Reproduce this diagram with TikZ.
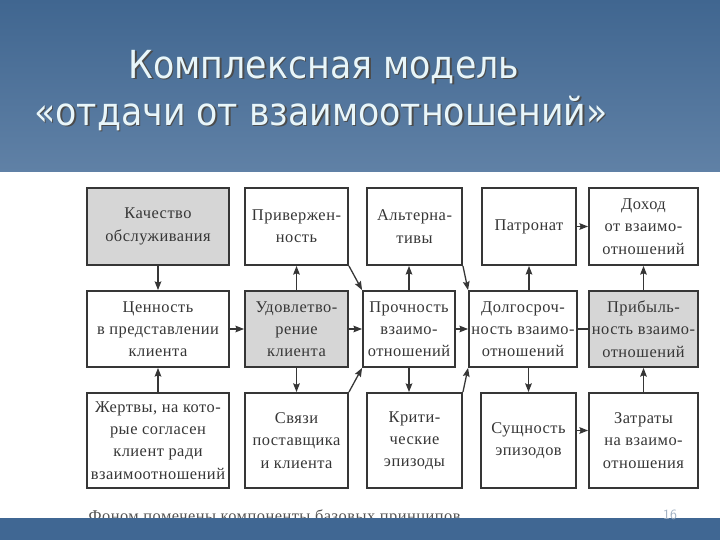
\documentclass[tikz,border=0pt]{standalone}
\usepackage{fontspec}
\setmainfont{Liberation Serif}
\newfontfamily\titlefont{DejaVu Sans Condensed}
\newfontfamily\bookfont[LetterSpace=3]{Liberation Serif}
\usetikzlibrary{arrows.meta, positioning, calc}
\definecolor{cband}{RGB}{64,103,147}
\definecolor{cbandtop}{RGB}{64,102,144}
\definecolor{cbandlow}{RGB}{96,129,166}
\definecolor{ctitle}{HTML}{E8F6FA}
\definecolor{cink}{HTML}{363636}
\definecolor{cshade}{HTML}{D6D6D6}
\definecolor{cpage}{RGB}{160,176,194}
\tikzset{
  every picture/.style={line width=1.2pt},
  box/.style={draw=cink, fill=#1, line width=1.6pt, align=center, inner sep=2pt,
    font=\bookfont\fontsize{14}{19}\selectfont, text=cink},
  box/.default=white,
  arrow/.style={-{Stealth[length=2.6mm, width=2mm, inset=0.4mm]}, draw=cink, line width=1.1pt},
  link/.style={draw=cink, line width=1.1pt},
  title/.style={font=\titlefont\fontsize{33}{38}\selectfont, text=ctitle},
  note/.style={font=\bookfont\fontsize{14}{16}\selectfont, text=cink!85},
}

\begin{document}
\begin{tikzpicture}[x=0.03cm, y=-0.03cm]
  \useasboundingbox (0,0) rectangle (720,540);
  \fill[white] (0,0) rectangle (720,540);
  \shade[top color=cbandtop, bottom color=cbandlow] (0,0) rectangle (720,172);
  % title with its shadow
  \node[title, text=black!70] (t1s) at (325.5,68.5) {Комплексная модель};
  \node[title] (t1) at (324,67) {Комплексная модель};
  \node[title, text=black!70] (t2s) at (322.5,114.5) {«отдачи от взаимоотношений»};
  \node[title] (t2) at (321,113) {«отдачи от взаимоотношений»};
  % row 1
  \node[box=cshade, minimum width=4.26cm, minimum height=2.31cm] (kach) at (158,226.5) {Качество\\обслуживания};
  \node[box, minimum width=3.09cm, minimum height=2.31cm] (priv) at (296.5,226.5) {Привержен-\\ность};
  \node[box, minimum width=2.85cm, minimum height=2.31cm] (alt) at (414.5,226.5) {Альтерна-\\тивы};
  \node[box, minimum width=2.82cm, minimum height=2.31cm] (patr) at (529,226.5) {Патронат};
  \node[box, minimum width=3.27cm, minimum height=2.31cm] (dohod) at (643.5,226.5) {Доход\\от взаимо-\\отношений};
  % row 2
  \node[box, minimum width=4.26cm, minimum height=2.28cm] (cen) at (158,329) {Ценность\\в представлении\\клиента};
  \node[box=cshade, minimum width=3.09cm, minimum height=2.28cm] (udov) at (296.5,329) {Удовлетво-\\рение\\клиента};
  \node[box, minimum width=2.76cm, minimum height=2.28cm] (proch) at (409,329) {Прочность\\взаимо-\\отношений};
  \node[box, minimum width=3.24cm, minimum height=2.28cm] (dolg) at (523,329) {Долгосроч-\\ность взаимо-\\отношений};
  \node[box=cshade, minimum width=3.27cm, minimum height=2.28cm] (prib) at (643.5,329) {Прибыль-\\ность взаимо-\\отношений};
  % row 3
  \node[box, minimum width=4.26cm, minimum height=2.85cm] (zhert) at (158,440.5) {Жертвы, на кото-\\рые согласен\\клиент ради\\взаимоотношений};
  \node[box, minimum width=3.09cm, minimum height=2.85cm] (svyaz) at (296.5,440.5) {Связи\\поставщика\\и клиента};
  \node[box, minimum width=2.85cm, minimum height=2.85cm] (krit) at (414.5,440.5) {Крити-\\ческие\\эпизоды};
  \node[box, minimum width=2.85cm, minimum height=2.85cm] (sushch) at (528.5,440.5) {Сущность\\эпизодов};
  \node[box, minimum width=3.27cm, minimum height=2.85cm] (zatr) at (643.5,440.5) {Затраты\\на взаимо-\\отношения};
  % connectors
  \draw[arrow] (kach) -- (cen);
  \draw[arrow] (zhert) -- (cen);
  \draw[arrow] (cen) -- (udov);
  \draw[arrow] (udov) -- (priv);
  \draw[arrow] (udov) -- (svyaz);
  \draw[arrow] (udov) -- (proch);
  \draw[arrow] (priv.south east) -- (proch.north west);
  \draw[arrow] (svyaz.north east) -- (proch.south west);
  \draw[arrow] (proch.north) -- (proch.north |- alt.south);
  \draw[arrow] (proch.south) -- (proch.south |- krit.north);
  \draw[arrow] (proch) -- (dolg);
  \draw[arrow] (alt.south east) -- (dolg.north west);
  \draw[arrow] (krit.north east) -- (dolg.south west);
  \draw[arrow] (dolg.north -| patr.south) -- (patr.south);
  \draw[arrow] (dolg.south -| sushch.north) -- (sushch.north);
  \draw[link] (dolg) -- (prib);
  \draw[arrow] (patr) -- (dohod);
  \draw[arrow] (prib) -- (dohod);
  \draw[arrow] (zatr) -- (prib);
  \draw[arrow] ([yshift=0.3cm]sushch.east) -- ([yshift=0.3cm]zatr.west);
  % caption, half hidden by the lower band
  \node[note, anchor=west] (caption) at (84,517) {Фоном помечены компоненты базовых принципов};
  \fill[cband] (0,518) rectangle (720,540);
  \node[font=\sffamily\fontsize{12}{12}\selectfont, text=cpage] (page) at (670,515) {16};
\end{tikzpicture}
\end{document}
